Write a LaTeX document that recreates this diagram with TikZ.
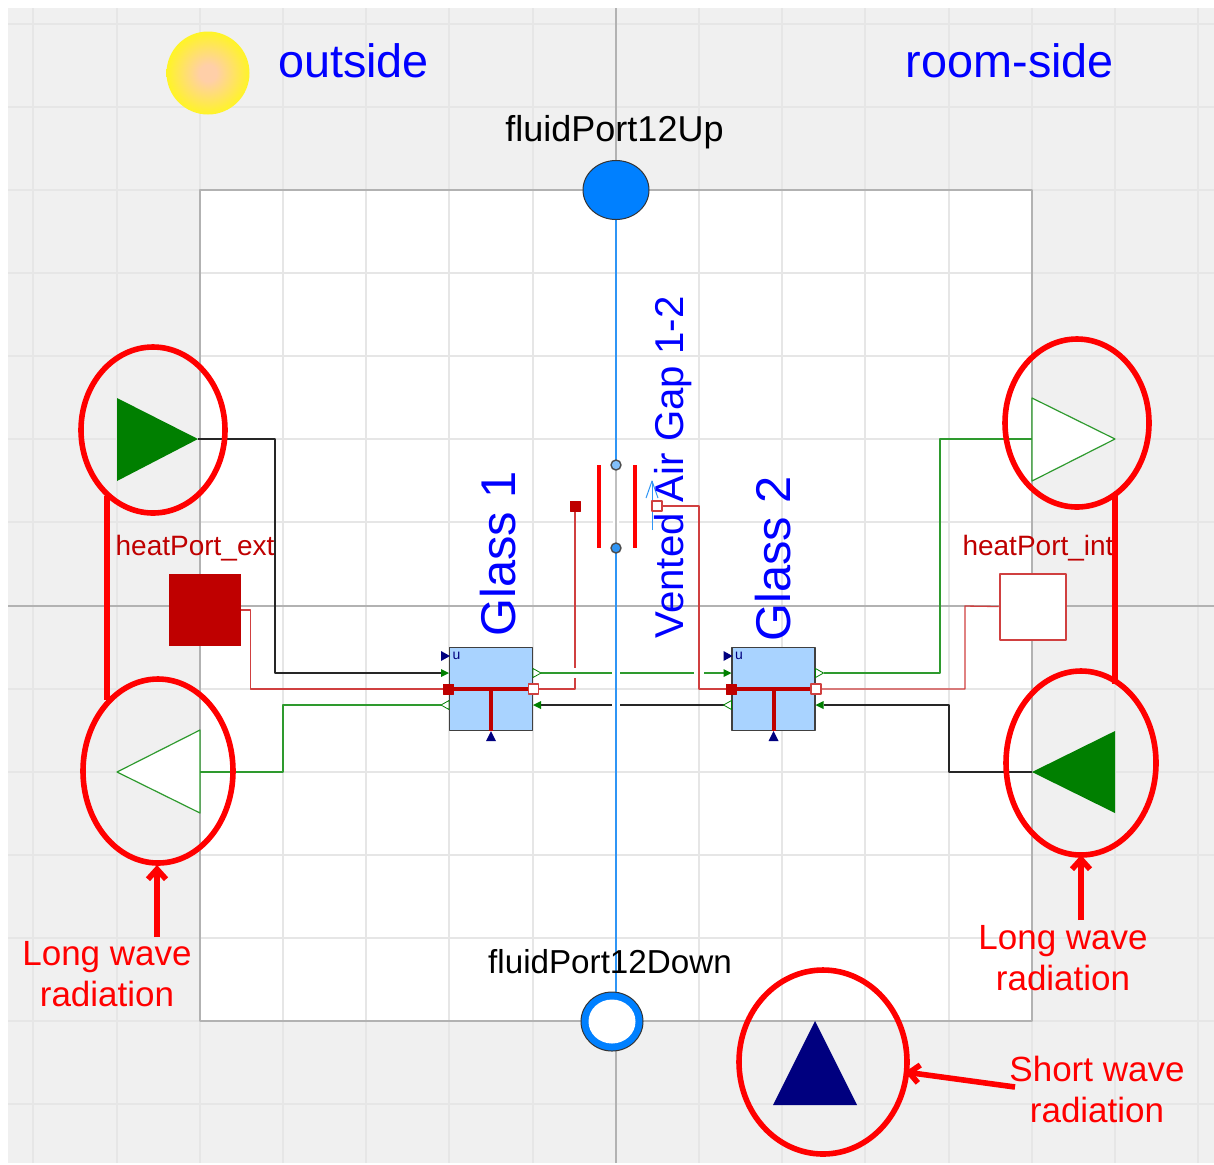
\documentclass[tikz,border=0pt]{standalone}
\usepackage{fontspec}
\setmainfont{Liberation Sans}
\usetikzlibrary{arrows.meta,shapes.geometric}
\definecolor{portred}{HTML}{BF0000}
\definecolor{wirered}{HTML}{D04040}
\definecolor{wiregreen}{HTML}{2E9A2E}
\definecolor{fillgreen}{HTML}{007F00}
\definecolor{navyport}{HTML}{00007F}
\definecolor{airblue}{HTML}{2F95F5}
\definecolor{portblue}{HTML}{0080FF}
\definecolor{glassblue}{HTML}{A9D3FF}
\definecolor{bggray}{HTML}{F0F0F0}
\definecolor{gridgray}{HTML}{E6E6E6}
\definecolor{sunpeach}{HTML}{FFCFA8}
\pgfdeclareradialshading{sunshade}{\pgfpoint{0bp}{0bp}}{color(0bp)=(sunpeach); color(5bp)=(sunpeach); color(31bp)=(yellow); color(50bp)=(yellow)}
\tikzset{
	wire/.style={line width=.65pt},
	note/.style={red,line width=2.8pt},
	notetext/.style={text=red,font=\fontsize{17.5}{20.5}\selectfont,align=center,inner sep=0pt},
	titletext/.style={text=blue,font=\fontsize{23.4}{26}\selectfont,inner sep=0pt},
	portname/.style={text=black,inner sep=0pt},
	heatname/.style={text=portred,font=\fontsize{14}{16}\selectfont,inner sep=0pt},
	glassbox/.style={draw=black!75,fill=glassblue,line width=.8pt,minimum size=41.5pt,inner sep=0pt},
	smallred/.style={draw=portred,fill=portred,minimum size=5pt,inner sep=0pt,line width=.5pt},
	smallwhite/.style={draw=wirered,fill=white,minimum size=5pt,inner sep=0pt,line width=.7pt},
	fluidport/.style={ellipse,draw=black!80,fill=portblue,inner sep=0pt,line width=.5pt},
	tinyport/.style={circle,draw=black!70,minimum size=5pt,inner sep=0pt,line width=.7pt},
}
\begin{document}
\begin{tikzpicture}[line join=round, >=stealth, x=.5pt, y=-.5pt]
	\useasboundingbox (0,0) rectangle (1214,1164);
	\fill[white] (0,0) rectangle (1214,1164);
	% background and grid
	\fill[bggray] (8,8) rectangle (1214,1163);
	\fill[white] (200,190) rectangle (1032,1021);
	\foreach \g in {33,117,200,283,366,449,533,699,782,865,949,1032,1115,1198} \draw[gridgray,line width=.6pt] (\g,8)--(\g,1163);
	\foreach \g in {24,107,190,273,356,439,522,689,772,855,938,1021,1104} \draw[gridgray,line width=.6pt] (8,\g)--(1214,\g);
	\draw[black!30,line width=.6pt] (616,8)--(616,1163);
	\draw[black!30,line width=.6pt] (8,606)--(1214,606);
	\draw[black!30,line width=.6pt] (200,190) rectangle (1032,1021);
	% sun and titles
	\shade[shading=sunshade] (208,73) circle[radius=41.5];
	\node[titletext] (outside) at (353.5,61) {outside};
	\node[titletext] (roomside) at (1010,61) {room-side};
	% fluid ports
	\node[portname,font=\fontsize{18}{20}\selectfont] (upname) at (614.5,132) {fluidPort12Up};
	\coordinate (lineup) at (616,190);
	\coordinate (linedown) at (616,1000);
	\draw[airblue,line width=.8pt] (lineup)--(linedown);
	\node[portname,font=\fontsize{16.6}{20}\selectfont] (downname) at (610,962) {fluidPort12Down};
	\node[fluidport,minimum width=33pt,minimum height=29.5pt] (portup) at (616,190) {};
	\node[fluidport,minimum width=31pt,minimum height=29.5pt] (portdown) at (612,1021.5) {};
	\node[ellipse,fill=white,minimum width=23.5pt,minimum height=22pt,inner sep=0pt] (portdownin) at (portdown) {};
	% vented gap
	\fill[white] (613,465) rectangle (619,548);
	\draw[black!25,line width=.9pt] (616,465)--(616,548);
	\node[tinyport,fill=airblue!60] (gaptop) at (616,465) {};
	\node[tinyport,fill=airblue] (gapbot) at (616,548) {};
	\fill[red] (596.5,465) rectangle (600.5,548);
	\fill[red] (632.5,465) rectangle (636.5,548);
	\draw[airblue,line width=.5pt] (652,530)--(652,481);
	\draw[airblue,line width=.5pt] (646,498)--(652,481)--(658,498);
	\node[smallred] (gapleft) at (575,506) {};
	\node[smallwhite] (gapright) at (657,506) {};
	% glass blocks
	\foreach \n/\xx/\yy/\lx in {1/491/554/498,2/773.5/559/773.5}{
		\node[glassbox] (glass\n) at (\xx,689) {};
		\node[text=navyport,font=\fontsize{7}{7}\selectfont,inner sep=0pt] (u\n) at (\xx-34.5,655.5) {u};
		\fill[navyport] (\xx-50,651)--(\xx-41,656)--(\xx-50,661)--cycle;
		\fill[navyport] (\xx-5,741)--(\xx,731)--(\xx+5,741)--cycle;
		\coordinate (inA\n) at (\xx-50,673);
		\coordinate (outA\n) at (\xx+50,673);
		\coordinate (inB\n) at (\xx-50,705);
		\coordinate (outB\n) at (\xx+50,705);
		\node[text=blue,font=\fontsize{24.4}{26}\selectfont,rotate=90,inner sep=0pt] (name\n) at (\lx,\yy) {Glass \n};
	}
	\node[text=blue,font=\fontsize{20.1}{22}\selectfont,rotate=90,inner sep=0pt] (ventname) at (673,467.5) {Vented Air Gap 1-2};
	% heat ports
	\node[fill=portred,minimum size=36pt,inner sep=0pt] (heatext) at (205,610) {};
	\node[draw=wirered,fill=white,minimum size=33pt,inner sep=0pt,line width=1pt] (heatint) at (1032.5,606.5) {};
	\node[heatname] (extname) at (195,548) {heatPort\_ext};
	\node[heatname] (intname) at (1038,548) {heatPort\_int};
	% triangles
	\fill[fillgreen] (117,398)--(198,439)--(117,481)--cycle;
	\draw[wiregreen,fill=white,line width=.6pt] (1032,398)--(1115,439)--(1032,481)--cycle;
	\draw[wiregreen,fill=white,line width=.6pt] (117,772)--(200,730)--(200,813)--cycle;
	\fill[fillgreen] (1032,772)--(1115,731)--(1115,813)--cycle;
	\fill[navyport] (815,1021)--(857,1105)--(773,1105)--cycle;
	\coordinate (solarext) at (198,439);
	\coordinate (lwoutext) at (200,772);
	\coordinate (lwoutint) at (1032,439);
	\coordinate (solarint) at (1032,772);
	% wires
	\draw[wirered,wire] (heatext.east)--++(9,0)|-(glass1.west);
	\draw[black!85,wire] (solarext)--++(77,0)|-(inA1);
	\draw[wiregreen,wire] (lwoutext)--++(83,0)|-(inB1);
	\draw[wirered,wire] (glass1.east)-|(gapleft.south);
	\draw[white,line width=1.8pt] (575,668)--(575,678);
	\draw[wiregreen,wire] (outA1)--(inA2);
	\draw[black!85,wire] (outB1)--(inB2);
	\draw[white,line width=3.6pt] (694,673)--(704,673);
	\draw[wirered,wire] (gapright.east)-|(699,689)--(glass2.west);
	\draw[wirered,wire] (glass2.east)-|(965,606)--(heatint.west);
	\draw[wiregreen,wire] (outA2)-|(940,439)--(lwoutint);
	\draw[black!85,wire] (outB2)-|(949,772)--(solarint);
	% crossings
	\draw[white,line width=3.6pt] (616,668)--(616,678);
	\draw[white,line width=3.6pt] (616,700)--(616,710);
	\draw[airblue,line width=.8pt] (616,660)--(616,720);
	% glass block ports
	\foreach \n/\xx in {1/491,2/773.5}{
		\draw[portred,line width=2pt] (glass\n.west)--(glass\n.east);
		\draw[portred,line width=2pt] (glass\n.center)--(glass\n.south);
		\node[smallred] (front\n) at (glass\n.west) {};
		\node[smallwhite] (back\n) at (glass\n.east) {};
		\fill[fillgreen] (\xx-50,669)--(\xx-42,673)--(\xx-50,677)--cycle;
		\draw[fillgreen,fill=white,line width=.4pt] (\xx+42,668.5)--(\xx+50,673)--(\xx+42,677.5)--cycle;
		\draw[fillgreen,fill=white,line width=.4pt] (\xx-42,700.5)--(\xx-50,705)--(\xx-42,709.5)--cycle;
		\fill[fillgreen] (\xx+50,701)--(\xx+42,705)--(\xx+50,709)--cycle;
	}
	% annotations
	\draw[note] (153,430) circle[x radius=72,y radius=83];
	\draw[note] (158,771) circle[x radius=75,y radius=92];
	\draw[note] (1077,423) circle[x radius=72,y radius=84];
	\draw[note] (1081,763) circle[x radius=75,y radius=92];
	\draw[note] (823,1062) circle[x radius=84,y radius=92];
	\draw[note] (107,496)--(107,700);
	\draw[note] (1115,494)--(1115,684);
	\draw[note,-{Straight Barb[length=5pt,width=9pt]}] (157,937)--(157,865);
	\draw[note,-{Straight Barb[length=5pt,width=9pt]}] (1081,920)--(1081,855);
	\draw[note,-{Straight Barb[length=5pt,width=9pt]}] (1015,1087)--(905,1072);
	\node[notetext] (lwext) at (107,974) {Long wave\\radiation};
	\node[notetext] (lwint) at (1063,958) {Long wave\\radiation};
	\node[notetext] (swint) at (1097,1089) {Short wave\\radiation};
\end{tikzpicture}
\end{document}
